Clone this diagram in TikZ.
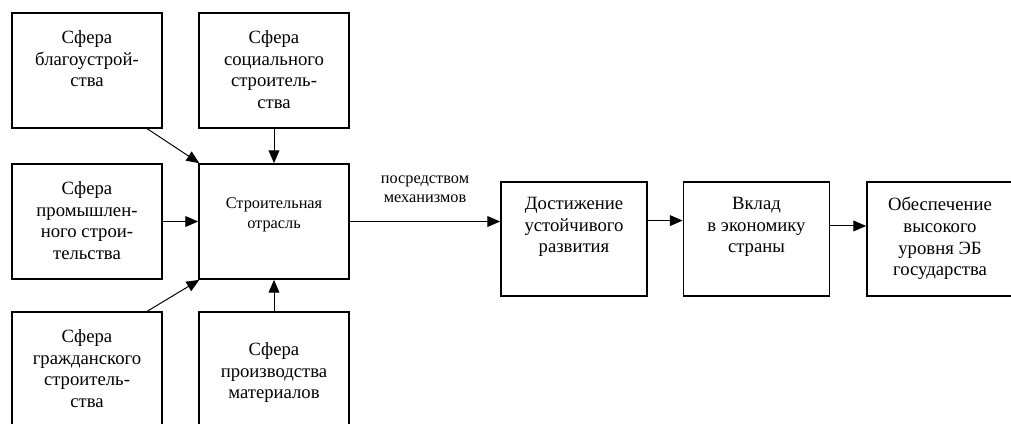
\documentclass[tikz,border=0pt]{standalone}
\usepackage{fontspec}
\setmainfont{Liberation Serif}
\usetikzlibrary{arrows.meta, positioning}

\begin{document}
\begin{tikzpicture}[x=0.025cm, y=0.025cm, >={Triangle[length=0.32cm, width=0.27cm]},
  box/.style={draw, line width=1.2pt, minimum width=3.75cm, minimum height=2.875cm, inner sep=0pt},
  goal/.style={box, minimum width=3.65cm, minimum height=2.85cm},
  txt/.style={anchor=north, align=center, inner sep=0pt, font=\fontsize{13.3}{15.4}\selectfont},
  small/.style={font=\fontsize{11.6}{13}\selectfont},
  link/.style={->, line width=0.7pt}]

\useasboundingbox (0,0) rectangle (1011,423);
\clip (0,0) rectangle (1011,423);

% spheres around the industry
\node (blag)   [box] at (87,352.5) {};
\node (soc)    [box] at (274,352.5) {};
\node (prom)   [box] at (87,201.5) {};
\node (stroy)  [box] at (274,201.5) {};
\node (grazh)  [box] at (87,53.5) {};
\node (proizv) [box] at (274,53.5) {};

% chain of results
\node (dost)   [goal] at (574,184) {};
\node (vklad)  [goal] at (756.5,184) {};
\node (obesp)  [goal] at (940,184) {};

\node (blagtxt)   [txt, below=0.45cm of blag.north] {Сфера\\благоустрой-\\ства};
\node (soctxt)    [txt, below=0.45cm of soc.north] {Сфера\\социального\\строитель-\\ства};
\node (promtxt)   [txt, below=0.45cm of prom.north] {Сфера\\промышлен-\\ного строи-\\тельства};
\node (stroytxt)  [txt, small, below=0.86cm of stroy.north, font=\fontsize{11.6}{14.2}\selectfont] {Строительная\\отрасль};
\node (grazhtxt)  [txt, below=0.45cm of grazh.north] {Сфера\\гражданского\\строитель-\\ства};
\node (proizvtxt) [txt, below=0.78cm of proizv.north] {Сфера\\производства\\материалов};
\node (dosttxt)   [txt, below=0.4cm of dost.north] {Достижение\\устойчивого\\развития};
\node (vkladtxt)  [txt, below=0.4cm of vklad.north] {Вклад\\в экономику\\страны};
\node (obesptxt)  [txt, below=0.4cm of obesp.north] {Обеспечение\\высокого\\уровня ЭБ\\государства};

\draw[link] (blag.-44) -- (stroy.142);
\draw[link] (soc.south) -- (stroy.north);
\draw[link] (prom.east) -- (stroy.west);
\draw[link] (grazh.44) -- (stroy.-142);
\draw[link] (proizv.north) -- (stroy.south);
\draw[link] (stroy.east) -- (stroy.east -| dost.west)
  node (mech) [midway, above=0.47cm, inner sep=0pt, align=center, small] {посредством\\механизмов};
\draw[link] (dost.14) -- (vklad.166);
\draw[link] (vklad.10) -- (obesp.170);
\end{tikzpicture}
\end{document}
